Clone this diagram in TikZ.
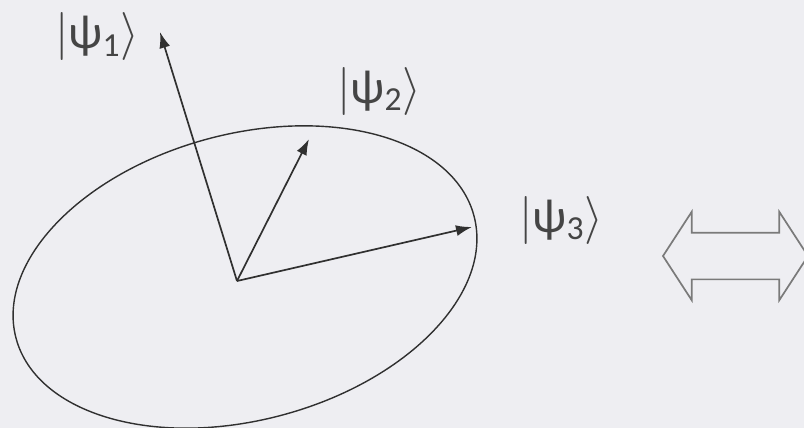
\RequirePackage{fix-cm}
\documentclass[tikz,border=0pt]{standalone}
\usepackage{fontspec}
\setmainfont{Carlito}
\usepackage{tikz}
\usetikzlibrary{arrows.meta, shapes.arrows}
\definecolor{bgcol}{HTML}{EEEEF2}
\definecolor{inkcol}{HTML}{303030}
\definecolor{kettext}{HTML}{454545}
\definecolor{equivcol}{HTML}{7A7A7A}

\begin{document}
\begin{tikzpicture}[x=1pt, y=-1pt,
    vec/.style={draw=inkcol, line width=1.7pt, -{Latex[length=16pt,width=11pt]}},
    ket/.style={text=kettext, font=\fontsize{48}{52}\selectfont, inner sep=0pt}]
    \fill[bgcol] (0,0) rectangle (804,428);
    \clip (0,0) rectangle (804,428);
    % the ellipse
    \draw[inkcol, line width=1.4pt, rotate around={15:(245,277)}] (245,277) ellipse [x radius=237, y radius=143];
    % the three states
    \coordinate (o) at (237,281);
    \foreach \n/\tip/\lab in {1/{160,32}/{97,37}, 2/{309,139}/{379,91}, 3/{472,227}/{561,220}} {
        \coordinate (tip\n) at (\tip);
        \node[ket] (ket\n) at (\lab) {$|$ψ\textsubscript{\n}$\rangle$};
        \draw[vec] (o) -- (tip\n);
    }
    % equivalence arrow
    \node[double arrow, draw=equivcol, fill=bgcol, line width=1.7pt, line join=miter,
          inner xsep=0pt, inner ysep=22.5pt, minimum height=145pt, double arrow head extend=21pt,
          double arrow tip angle=114] (equiv) at (735.5,256) {};
\end{tikzpicture}
\end{document}
